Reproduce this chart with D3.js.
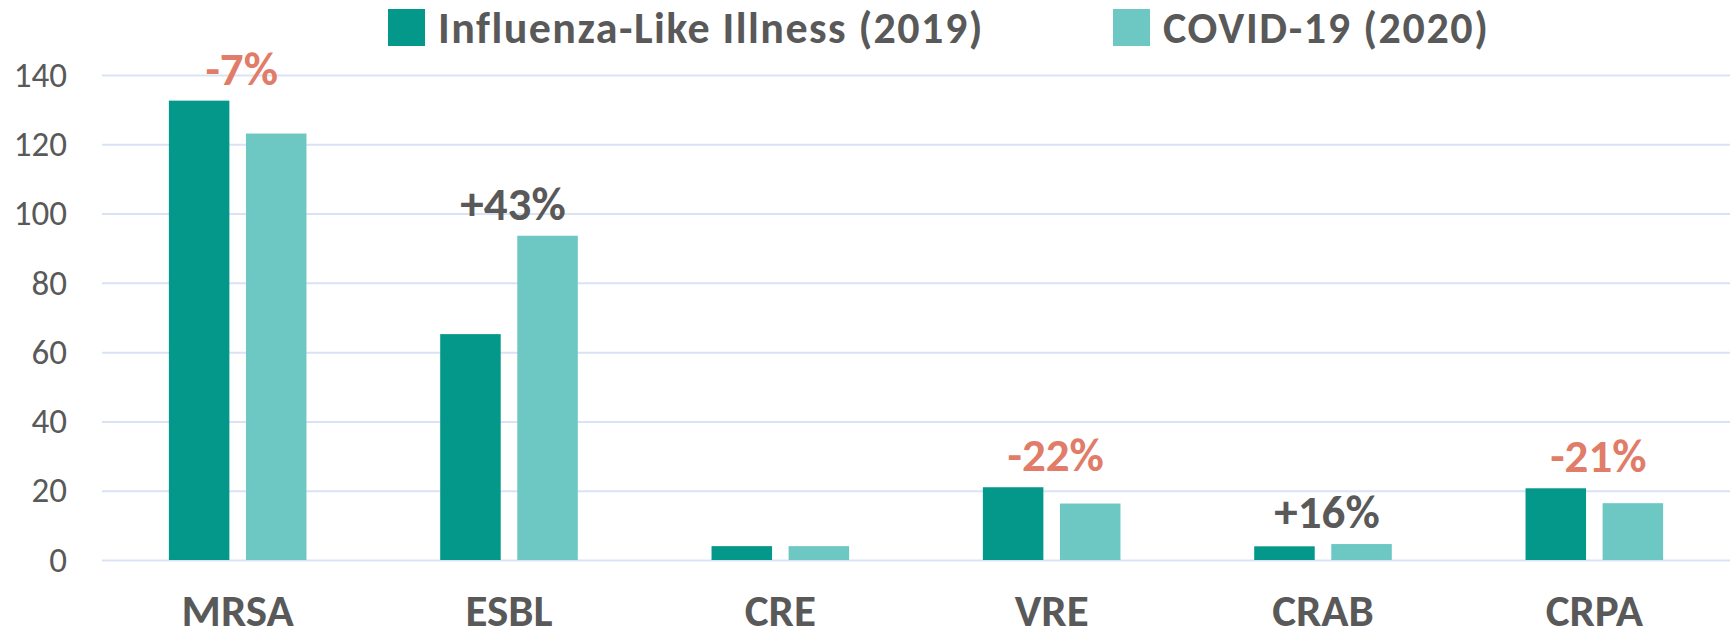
<!DOCTYPE html>
<html>
<head>
<meta charset="utf-8">
<script src="https://cdn.jsdelivr.net/npm/d3@7"></script>
<style>
  html, body { margin: 0; padding: 0; background: #ffffff; }
  svg { display: block; }
  text { font-family: Calibri, Carlito, Lato, "Open Sans", sans-serif; }
</style>
</head>
<body>
<svg id="chart" width="1731" height="640"></svg>
<script>
// ---- data ----
const categories = ["MRSA", "ESBL", "CRE", "VRE", "CRAB", "CRPA"];
const seriesNames = ["Influenza-Like Illness (2019)", "COVID-19 (2020)"];
const influenza2019 = [132.6, 65.2, 4.0, 21.0, 3.95, 20.7];
const covid2020 = [123.1, 93.6, 4.0, 16.3, 4.6, 16.4];
const changeLabels = ["-7%", "+43%", "", "-22%", "+16%", "-21%"];
const yTicks = [0, 20, 40, 60, 80, 100, 120, 140];

// ---- styles ----
const seriesColors = ["#03988A", "#6DC7C3"];
const textGrey = "#595959";
const negColor = "#E07C68";
const gridColor = "#DAE3F5";

const svg = d3.select("#chart");
const plot = { left: 102, right: 1730, top: 75, bottom: 560 };

const x = d3.scaleBand().domain(categories).range([plot.left, plot.right]).paddingInner(0).paddingOuter(0);
const x1 = d3.scaleBand().domain(seriesNames).range([0, x.bandwidth()]).paddingInner(0.215).paddingOuter(0.8675);
const y = d3.scaleLinear().domain([0, 140]).range([plot.bottom, plot.top]);

// gridlines + y tick labels
const yAxis = d3.axisLeft(y).tickValues(yTicks).tickSize(-(plot.right - plot.left)).tickPadding(35).tickFormat(d3.format("d"));
const gy = svg.append("g").attr("transform", `translate(${plot.left},0)`).call(yAxis);
gy.select(".domain").remove();
gy.selectAll(".tick line").attr("stroke", gridColor).attr("stroke-width", 2);
gy.selectAll(".tick text")
  .attr("fill", textGrey)
  .style("font-size", "35px")
  .style("font-weight", "400");

// bars
const data = categories.map((c, i) => ({ cat: c, vals: [influenza2019[i], covid2020[i]], label: changeLabels[i] }));
const groups = svg.append("g").selectAll("g").data(data).join("g")
  .attr("transform", d => `translate(${x(d.cat)},0)`);
groups.selectAll("rect").data(d => d.vals.map((v, j) => ({ s: seriesNames[j], v, j })))
  .join("rect")
  .attr("x", d => x1(d.s))
  .attr("width", x1.bandwidth())
  .attr("y", d => y(d.v))
  .attr("height", d => y(0) - y(d.v))
  .attr("fill", d => seriesColors[d.j]);

// change labels
groups.filter(d => d.label !== "").append("text")
  .attr("x", x.bandwidth() / 2 + 4)
  .attr("y", d => y(d3.max(d.vals)) - 16)
  .attr("text-anchor", "middle")
  .attr("fill", d => d.label.startsWith("-") ? negColor : textGrey)
  .style("font-size", "47px")
  .style("font-weight", "700")
  .text(d => d.label);

// x axis labels
const xAxis = d3.axisBottom(x).tickSize(0).tickPadding(0);
const gx = svg.append("g").attr("transform", `translate(0,${plot.bottom})`).call(xAxis);
gx.select(".domain").remove();
gx.selectAll(".tick text")
  .attr("y", 66)
  .attr("dy", 0)
  .attr("fill", textGrey)
  .style("font-size", "45px")
  .style("font-weight", "700");

// legend
const legendX = [388, 1113];
const legendTextWidth = [544, 325];
const legend = svg.append("g");
seriesNames.forEach((name, i) => {
  legend.append("rect")
    .attr("x", legendX[i]).attr("y", 9)
    .attr("width", 37).attr("height", 37)
    .attr("fill", seriesColors[i]);
  const t = legend.append("text")
    .attr("x", legendX[i] + 50).attr("y", 43)
    .attr("fill", textGrey)
    .style("font-size", "44px")
    .style("font-weight", "700")
    .text(name);
  const w = t.node().getComputedTextLength();
  const ls = (legendTextWidth[i] - w) / (name.length - 1);
  t.style("letter-spacing", Math.max(0, ls) + "px");
});
</script>
</body>
</html>
